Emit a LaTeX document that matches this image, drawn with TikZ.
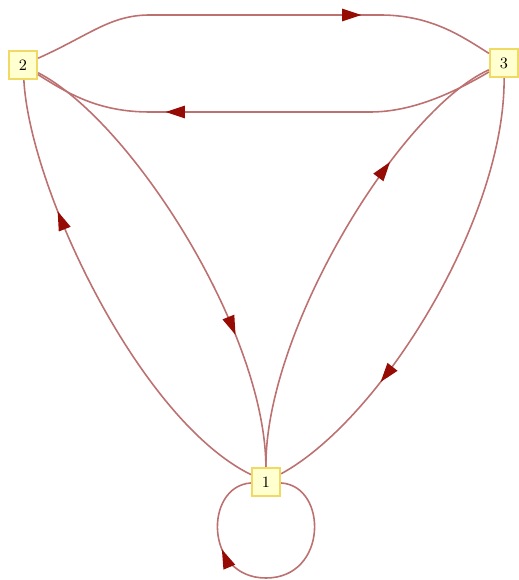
\documentclass[tikz,border=0pt]{standalone}
\usepackage{tikz}
\usetikzlibrary{arrows.meta, decorations.markings}

\definecolor{edgered}{RGB}{188,112,112}
\definecolor{tipred}{RGB}{150,12,5}
\definecolor{vfill}{RGB}{255,255,208}
\definecolor{vline}{RGB}{240,218,100}

\begin{document}
\begin{tikzpicture}[
    x=0.02cm, y=-0.02cm,
    vertex/.style={rectangle, draw=vline, fill=vfill, line width=1pt, minimum size=0.57cm, inner sep=0pt, font=\fontsize{9}{10}\selectfont},
    edge/.style={draw=edgered, line width=0.9pt, postaction={decorate}, decoration={markings, mark=at position #1 with {\arrow[color=tipred]{Triangle[length=11pt, width=7pt]}}}},
    edge/.default=0.71
]
    \useasboundingbox (0,0) rectangle (519,580);

    % Vertices
    \node[vertex] (v2) at (23,65) {2};
    \node[vertex] (v3) at (504,63) {3};
    \node[vertex] (v1) at (266,482) {1};
    \coordinate (loopbot) at (266,578);

    % Edges between 2 and 3
    \draw[edge] (v2) .. controls (90,35) and (110,15) .. (150,15) -- (380,15) .. controls (430,15) and (460,35) .. (v3);
    \draw[edge] (v3) .. controls (450,95) and (410,112) .. (370,112) -- (150,112) .. controls (100,112) and (70,95) .. (v2);

    % Edges to and from 1
    \draw[edge] (v1) .. controls (140,420) and (30,190) .. (v2);
    \draw[edge] (v2) .. controls (130,120) and (265,330) .. (v1);
    \draw[edge] (v1) .. controls (265,330) and (400,110) .. (v3);
    \draw[edge] (v3) .. controls (505,220) and (380,420) .. (v1);

    % Loop at 1
    \draw[edge=0.7] (v1) .. controls (328,486) and (328,578) .. (loopbot) .. controls (204,578) and (204,486) .. (v1);
\end{tikzpicture}
\end{document}
